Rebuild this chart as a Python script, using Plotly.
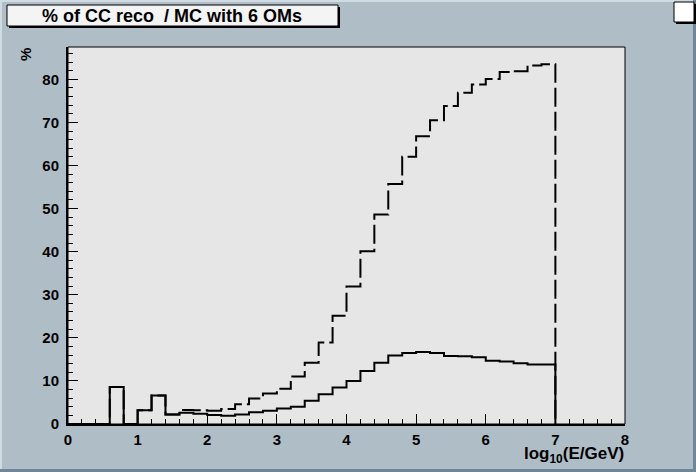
import plotly.graph_objects as go

# ---- data ----
bin_low = [0.0, 0.2, 0.4, 0.6, 0.8, 1.0, 1.2, 1.4, 1.6, 1.8,
           2.0, 2.2, 2.4, 2.6, 2.8, 3.0, 3.2, 3.4, 3.6, 3.8,
           4.0, 4.2, 4.4, 4.6, 4.8, 5.0, 5.2, 5.4, 5.6, 5.8,
           6.0, 6.2, 6.4, 6.6, 6.8]
bin_high_last = 7.0
solid_vals = [0, 0, 0, 8.6, 0, 3.2, 6.6, 2.2, 2.6, 2.4,
              2.1, 1.9, 2.2, 2.7, 3.1, 3.6, 4.0, 5.4, 6.9, 8.5,
              10.0, 12.3, 14.2, 15.9, 16.5, 16.7, 16.5, 15.8, 15.7, 15.5,
              14.7, 14.5, 14.1, 13.8, 13.8]
dashed_vals = [0, 0, 0, 8.6, 0, 3.2, 6.6, 2.2, 3.25, 3.2,
               3.1, 3.5, 4.6, 5.9, 7.1, 8.2, 11.0, 14.2, 18.9, 25.1,
               31.9, 40.1, 48.6, 55.7, 62.0, 66.8, 70.5, 73.8, 76.9, 78.8,
               80.1, 81.7, 81.9, 83.2, 83.5]
x_ticks = [0, 1, 2, 3, 4, 5, 6, 7, 8]
y_ticks = [0, 10, 20, 30, 40, 50, 60, 70, 80]
title_text = "% of CC reco&nbsp; / MC with 6 OMs"
x_title = "log<sub>10</sub>(E/GeV)"
y_title = "%"

# ---- layout geometry (pixels) ----
W, H = 696, 472
L, R, T, B = 68, 71, 47, 48
PW, PH = W - L - R, H - T - B

def px(xp):
    return (xp - L) / PW

def py(yp):
    return 1 - (yp - T) / PH

def hist_path(vals):
    xs = list(bin_low) + [bin_high_last, bin_high_last]
    ys = list(vals) + [vals[-1], 0]
    return xs, ys

FONT = "Liberation Sans"
BG = "#afbdc7"
fig = go.Figure()

xs, ys = hist_path(dashed_vals)
fig.add_trace(go.Scatter(x=xs, y=ys, mode="lines", line_shape="hv",
                         line=dict(color="black", width=2, dash="19px,5px"),
                         hoverinfo="skip", showlegend=False))
xs, ys = hist_path(solid_vals)
fig.add_trace(go.Scatter(x=xs, y=ys, mode="lines", line_shape="hv",
                         line=dict(color="black", width=2),
                         hoverinfo="skip", showlegend=False))

shapes = [
    # frame
    dict(type="rect", xref="paper", yref="paper", x0=0, x1=1, y0=0, y1=1,
         line=dict(color="black", width=1), layer="above"),
    # canvas bevel right / bottom
    dict(type="rect", xref="paper", yref="paper", x0=px(W - 3), x1=px(W + 2),
         y0=py(H + 2), y1=py(-2), fillcolor="#6f8698", line_width=0),
    dict(type="rect", xref="paper", yref="paper", x0=px(-2), x1=px(W + 2),
         y0=py(H + 2), y1=py(H - 3), fillcolor="#6f8698", line_width=0),
    dict(type="rect", xref="paper", yref="paper", x0=px(-2), x1=px(W - 3),
         y0=py(2), y1=py(-2), fillcolor="#d2dbe1", line_width=0),
    dict(type="rect", xref="paper", yref="paper", x0=px(-2), x1=px(2),
         y0=py(H - 3), y1=py(-2), fillcolor="#d2dbe1", line_width=0),
    # title box shadow + box
    dict(type="rect", xref="paper", yref="paper", x0=px(9), x1=px(340),
         y0=py(28), y1=py(7), fillcolor="black", line_width=0),
    dict(type="rect", xref="paper", yref="paper", x0=px(7), x1=px(338),
         y0=py(26), y1=py(5), fillcolor="#f4f4f4",
         line=dict(color="black", width=1)),
    # stats box shadow + box
    dict(type="rect", xref="paper", yref="paper", x0=px(676), x1=px(696),
         y0=py(24), y1=py(4), fillcolor="black", line_width=0),
    dict(type="rect", xref="paper", yref="paper", x0=px(674), x1=px(694),
         y0=py(22), y1=py(2), fillcolor="white",
         line=dict(color="black", width=1)),
]

annotations = [
    dict(text="<b>%s</b>" % title_text, xref="paper", yref="paper",
         x=px(172), y=py(16), xanchor="center", yanchor="middle",
         showarrow=False, font=dict(family=FONT, size=18, color="black")),
    dict(text="<b>%s</b>" % y_title, xref="paper", yref="paper",
         x=px(25), y=py(55), xanchor="center", yanchor="middle", textangle=-90,
         showarrow=False, font=dict(family=FONT, size=15, color="black")),
    dict(text="<b>%s</b>" % x_title, xref="paper", yref="paper",
         x=px(626), y=py(455), xanchor="right", yanchor="middle",
         showarrow=False, font=dict(family=FONT, size=17, color="black")),
]

fig.update_layout(
    width=W, height=H,
    margin=dict(l=L, r=R, t=T, b=B, pad=0),
    paper_bgcolor=BG, plot_bgcolor="#e6e6e6",
    shapes=shapes, annotations=annotations,
    font=dict(family=FONT, size=15, color="black"),
)
fig.update_xaxes(range=[0, 8], tickvals=x_ticks,
                 ticktext=["<b>%d</b>" % v for v in x_ticks],
                 showgrid=False, zeroline=False, showline=True, linecolor="black",
                 linewidth=2, ticks="inside", ticklen=10, tickwidth=1,
                 tickcolor="black", ticklabelstandoff=1,
                 minor=dict(ticks="inside", ticklen=5, dtick=0.2, tick0=0,
                            tickcolor="black", showgrid=False))
fig.update_yaxes(range=[0, 87.5], tickvals=y_ticks,
                 ticktext=["<b>%d</b>" % v for v in y_ticks],
                 showgrid=False, zeroline=False, showline=True, linecolor="black",
                 linewidth=2, ticks="inside", ticklen=10, tickwidth=1,
                 tickcolor="black", ticklabelstandoff=4,
                 minor=dict(ticks="inside", ticklen=5, dtick=2, tick0=0,
                            tickcolor="black", showgrid=False))

fig.write_html("out.html",
               config={"displayModeBar": False},
               post_script="document.body.style.margin='0';"
                           "document.body.style.overflow='hidden';")
